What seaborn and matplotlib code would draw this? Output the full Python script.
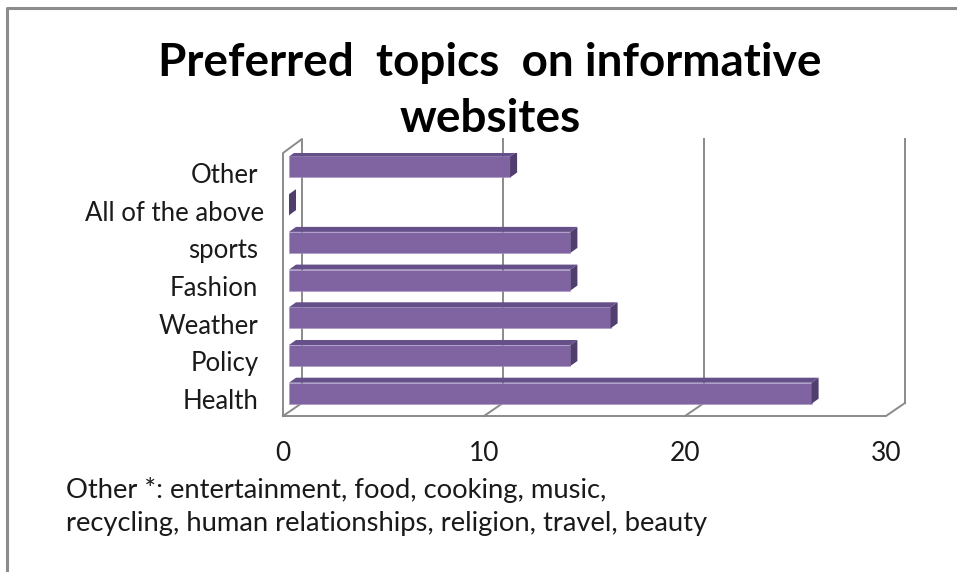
import matplotlib
matplotlib.use("Agg")
import matplotlib.pyplot as plt
from matplotlib.lines import Line2D
from matplotlib.patches import Polygon
from matplotlib.transforms import ScaledTranslation
import seaborn as sns
import pandas as pd

# ---- data ----
topics = ["Other", "All of the above", "sports", "Fashion", "Weather", "Policy", "Health"]
counts = [11, 0, 14, 14, 16, 14, 26]
x_ticks = [0, 10, 20, 30]
title_text = "Preferred  topics  on informative\nwebsites"
note_lines = ["Other *: entertainment, food, cooking, music,",
              "recycling, human relationships, religion, travel, beauty"]

df = pd.DataFrame({"topic": topics, "count": counts})

# ---- style ----
sns.set_style("white")
plt.rcParams["font.family"] = ["Lato", "DejaVu Sans"]

W, H, DPI = 957, 572, 100
fig = plt.figure(figsize=(W / DPI, H / DPI), dpi=DPI)
fig.patch.set_facecolor("white")

# axes = plane of the bar fronts (pixel geometry of the plot area)
ax_left, ax_right, ax_top, ax_bottom = 289, 892, 153, 416
ax = fig.add_axes([ax_left / W, 1 - ax_bottom / H,
                   (ax_right - ax_left) / W, (ax_bottom - ax_top) / H])

FRONT = "#8064A2"
TOP = "#65508A"
SIDE = "#4F3E6E"
FRAME = "#8A8A8A"
TEXT = "#1a1a1a"

sns.barplot(data=df, x="count", y="topic", orient="h", color=FRONT,
            saturation=1, width=0.557, ax=ax, zorder=3,
            edgecolor="#A693C4", linewidth=0.4)

ymin_data, ymax_data = -0.371, 6.605
ax.set_xlim(0, 30)
ax.set_ylim(ymax_data, ymin_data)

# pixels per data unit
sx = (ax_right - ax_left) / 30.0
sy = (ax_bottom - ax_top) / (ymax_data - ymin_data)


def px(dx, dy):
    """Convert an image-pixel offset (x right, y down) to data units."""
    return dx / sx, dy / sy


# ---- 3D bar faces ----
bdx, bdy = px(7, -5)
for rect in list(ax.patches):
    x0, y0 = rect.get_x(), rect.get_y()
    x1 = x0 + rect.get_width()
    y1 = y0 + rect.get_height()
    top = Polygon([(x0, y0), (x1, y0), (x1 + bdx, y0 + bdy), (x0 + bdx, y0 + bdy)],
                  closed=True, facecolor=TOP, edgecolor="none", zorder=3)
    side = Polygon([(x1, y0), (x1, y1), (x1 + bdx, y1 + bdy), (x1 + bdx, y0 + bdy)],
                   closed=True, facecolor=SIDE, edgecolor="none", zorder=3)
    ax.add_patch(top)
    ax.add_patch(side)

# ---- walls and floor ----
fx, _ = px(-6, 0)          # front plane x shift
bx, _ = px(13, 0)          # back plane x shift
_, back_floor = px(0, 403 - 167)   # category 0 sits at image row 167
_, back_top = px(0, 139 - 167)
front_floor = ymax_data
front_top = ymin_data

lk = dict(color=FRAME, lw=1.4, solid_capstyle="projecting", clip_on=False, zorder=1)

# left wall
ax.plot([0 + fx, 0 + fx, 0 + bx, 0 + bx, 0 + fx],
        [front_floor, front_top, back_top, back_floor, front_floor], **lk)
# floor front edge and right edge
ax.plot([0 + fx, 30 + fx, 30 + bx], [front_floor, front_floor, back_floor], **lk)
# back wall grid lines
for v in x_ticks[1:]:
    ax.plot([v + bx, v + bx], [back_floor, back_top], **lk)
# floor tick diagonals
for v in x_ticks[1:-1]:
    ax.plot([v + fx, v + bx], [front_floor, back_floor], **lk)

# ---- axes text ----
for s in ax.spines.values():
    s.set_visible(False)
ax.grid(False)
ax.set_xlabel("")
ax.set_ylabel("")
ax.set_xticks(x_ticks)
ax.set_xticklabels([str(v) for v in x_ticks])
ax.tick_params(axis="x", length=0, pad=18, labelsize=19, colors=TEXT)
ax.tick_params(axis="y", length=0, pad=22, labelsize=18.5, colors=TEXT)

shift_x = ScaledTranslation(-6 / DPI, 0, fig.dpi_scale_trans)
for lab in ax.get_xticklabels():
    lab.set_transform(lab.get_transform() + shift_x)
shift_y = ScaledTranslation(0, -6 / DPI, fig.dpi_scale_trans)
for lab in ax.get_yticklabels():
    extra = 6 if lab.get_text() == "All of the above" else 0
    lab.set_transform(lab.get_transform() + shift_y +
                      ScaledTranslation(extra / DPI, 0, fig.dpi_scale_trans))

# ---- title and note ----
fig.text(490 / W, 1 - 91 / H, title_text, ha="center", va="center",
         fontsize=33, fontweight="bold", color="black", linespacing=1.4)
fig.text(66 / W, 1 - 490 / H, note_lines[0], ha="left", va="center",
         fontsize=19.7, color=TEXT)
fig.text(66 / W, 1 - 523 / H, note_lines[1], ha="left", va="center",
         fontsize=19.7, color=TEXT)

# ---- outer frame (top and left edges) ----
fig.add_artist(Line2D([7 / W, 7 / W, 1.0], [0.0, 1 - 8 / H, 1 - 8 / H],
                      transform=fig.transFigure, color="#8C8C8C", lw=2.2))

fig.savefig("out.png", dpi=DPI, facecolor="white")
